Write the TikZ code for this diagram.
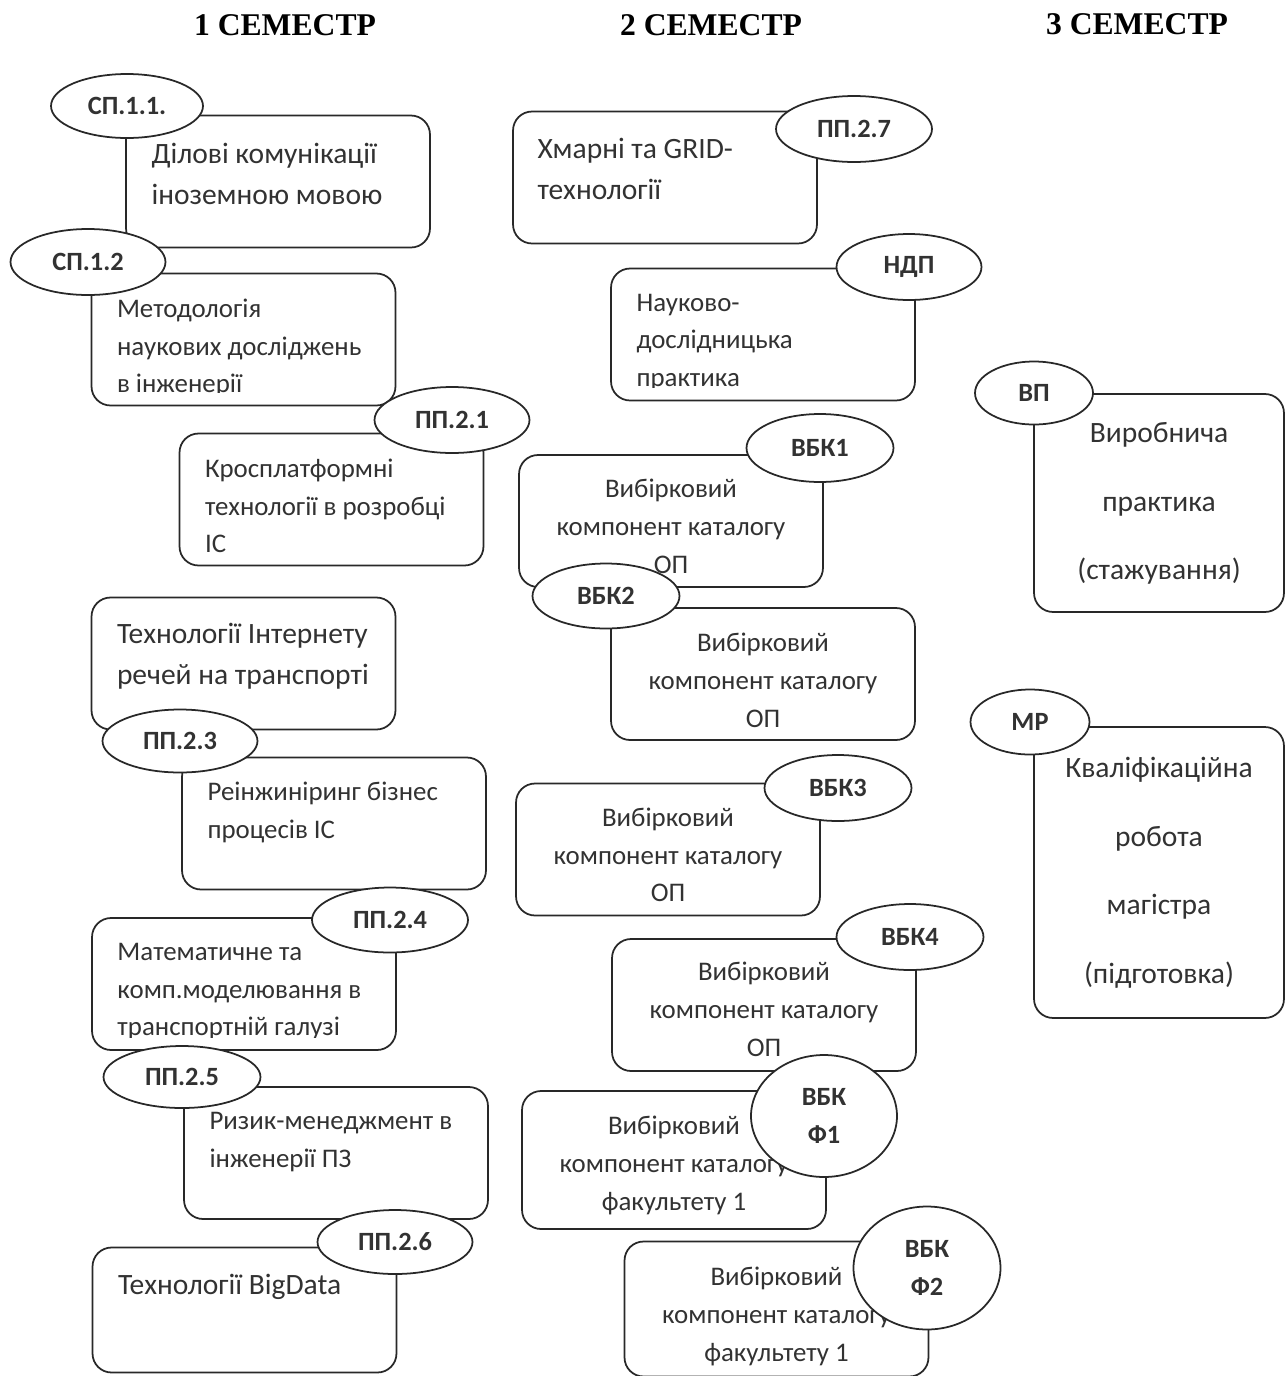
\documentclass[tikz,border=0pt]{standalone}
\usepackage{fontspec}
\setmainfont{Carlito}
\newfontfamily\headfont{Liberation Serif}
\usepackage{tikz}
\usetikzlibrary{shapes.geometric, positioning}
\definecolor{inkgray}{RGB}{50,50,50}
\definecolor{linegray}{RGB}{40,40,40}
\tikzstyle{box} = [rectangle, rounded corners=0.38cm, draw=linegray, line width=1pt,
                   minimum width=6.08cm, minimum height=2.64cm, inner sep=0pt]
\tikzstyle{tag} = [ellipse, draw=linegray, fill=white, line width=1pt, inner sep=0pt,
                   minimum width=3.1cm, minimum height=1.3cm, align=center, text=inkgray,
                   font=\fontsize{15}{22}\selectfont\bfseries]
\tikzstyle{vtag} = [tag, minimum width=2.94cm, minimum height=1.32cm]
\tikzstyle{txt} = [inner sep=0pt, align=left, text=inkgray, font=\fontsize{15.3}{21.4}\selectfont]
\tikzstyle{big} = [font=\fontsize{16.8}{23.3}\selectfont]
\tikzstyle{txtc} = [txt, align=center]
\tikzstyle{tall} = [txtc, font=\fontsize{16.8}{39}\selectfont]
\tikzstyle{head} = [inner sep=0pt, font=\headfont\bfseries\fontsize{18}{22}\selectfont]

\begin{document}
\begin{tikzpicture}[x=0.02cm, y=-0.02cm]
    \useasboundingbox (0,0) rectangle (1286,1376);

    % Semesters
    \node[head] (sem1) at (285,25) {1 СЕМЕСТР};
    \node[head] (sem2) at (711,25) {2 СЕМЕСТР};
    \node[head] (sem3) at (1137,24) {3 СЕМЕСТР};

    % 1 semester
    \node[box] (comm) at (278,181.5) {};
    \node[txt, big, below right=0.56cm and 0.52cm of comm.north west] (comm-t) {Ділові комунікації\\іноземною мовою};
    \node[box] (method) at (243.5,339.5) {};
    \begin{scope}
        \clip (method.north west) rectangle ([yshift=0.27cm]method.south east);
        \node[txt, below right=0.52cm and 0.52cm of method.north west] (method-t) {Методологія\\наукових досліджень\\в інженерії};
    \end{scope}
    \node[box] (cross) at (331.5,499.5) {};
    \node[txt, below right=0.52cm and 0.52cm of cross.north west] (cross-t) {Кросплатформні\\технології в розробці\\ІС};
    \node[box] (iot) at (243.5,663.5) {};
    \node[txt, big, below right=0.52cm and 0.52cm of iot.north west] (iot-t) {Технології Інтернету\\речей на транспорті};
    \node[box] (reeng) at (334,823.5) {};
    \node[txt, below right=0.5cm and 0.52cm of reeng.north west] (reeng-t) {Реінжиніринг бізнес\\процесів ІС};
    \node[box] (model) at (244,984) {};
    \begin{scope}
        \clip (model.north west) rectangle ([yshift=0.27cm]model.south east);
        \node[txt, below right=0.52cm and 0.52cm of model.north west] (model-t) {Математичне та\\комп.моделювання в\\транспортній галузі};
    \end{scope}
    \node[box] (risk) at (336,1153) {};
    \node[txt, below right=0.52cm and 0.52cm of risk.north west] (risk-t) {Ризик-менеджмент в\\інженерії ПЗ};
    \node[box, minimum height=2.5cm] (bigdata) at (244.5,1310) {};
    \node[txt, big, below right=0.54cm and 0.52cm of bigdata.north west] (bigdata-t) {Технології BigData};

    % 2 semester
    \node[box] (cloud) at (665,177.5) {};
    \node[txt, big, below right=0.54cm and 0.5cm of cloud.north west] (cloud-t) {Хмарні та GRID-\\технології};
    \node[box] (research) at (763,334.5) {};
    \begin{scope}
        \clip (research.north west) rectangle ([yshift=0.27cm]research.south east);
        \node[txt, below right=0.52cm and 0.52cm of research.north west] (research-t) {Науково-\\дослідницька\\практика};
    \end{scope}
    \node[box] (vbk1) at (671,521) {};
    \node[txtc, below=0.5cm of vbk1.north] (vbk1-t) {Вибірковий\\компонент каталогу\\ОП};
    \node[box] (vbk2) at (763,674) {};
    \node[txtc, below=0.52cm of vbk2.north] (vbk2-t) {Вибірковий\\компонент каталогу\\ОП};
    \node[box] (vbk3) at (668,849.5) {};
    \node[txtc, below=0.5cm of vbk3.north] (vbk3-t) {Вибірковий\\компонент каталогу\\ОП};
    \node[box] (vbk4) at (764,1005) {};
    \node[txtc, below=0.48cm of vbk4.north] (vbk4-t) {Вибірковий\\компонент каталогу\\ОП};
    \node[box, minimum height=2.76cm] (fac1) at (674,1160) {};
    \node[txtc, below=0.52cm of fac1.north] (fac1-t) {Вибірковий\\компонент каталогу\\факультету 1};
    \node[box, minimum height=2.7cm] (fac2) at (776.5,1309) {};
    \node[txtc, below=0.53cm of fac2.north] (fac2-t) {Вибірковий\\компонент каталогу\\факультету 1};

    % 3 semester
    \node[box, minimum width=5cm, minimum height=4.36cm] (intern) at (1159,503) {};
    \node[tall, below=0.58cm of intern.north] (intern-t) {Виробнича\\практика\\(стажування)};
    \node[box, minimum width=5cm, minimum height=5.82cm] (thesis) at (1159,872.5) {};
    \node[tall, below=0.62cm of thesis.north] (thesis-t) {Кваліфікаційна\\робота\\магістра\\(підготовка)};

    % Codes
    \node[tag, minimum width=3.04cm, minimum height=1.28cm] (sp11) at (127,106) {СП.1.1.};
    \node[tag, minimum height=1.32cm] (sp12) at (88,262) {СП.1.2};
    \node[tag, minimum height=1.32cm] (pp21) at (452,420) {ПП.2.1};
    \node[tag, minimum height=1.26cm] (pp23) at (180,741) {ПП.2.3};
    \node[tag, minimum width=3.12cm] (pp24) at (390,920) {ПП.2.4};
    \node[tag, minimum width=3.14cm, minimum height=1.24cm] (pp25) at (182,1077) {ПП.2.5};
    \node[tag, minimum height=1.28cm] (pp26) at (395,1242) {ПП.2.6};
    \node[tag, minimum width=3.12cm, minimum height=1.32cm] (pp27) at (854,129) {ПП.2.7};
    \node[vtag, minimum width=2.9cm] (ndp) at (909,267) {НДП};
    \node[vtag, minimum height=1.36cm] (vbk1-c) at (820,448) {ВБК1};
    \node[vtag, minimum height=1.3cm] (vbk2-c) at (606,596) {ВБК2};
    \node[vtag] (vbk3-c) at (838,788) {ВБК3};
    \node[vtag] (vbk4-c) at (910,937) {ВБК4};
    \node[vtag, minimum width=2.92cm, minimum height=2.44cm] (fac1-c) at (824,1116) {ВБК\\Ф1};
    \node[vtag, minimum height=2.46cm] (fac2-c) at (927,1268) {ВБК\\Ф2};
    \node[tag, minimum width=2.36cm, minimum height=1.26cm] (vp) at (1034,393) {ВП};
    \node[tag, minimum width=2.38cm] (mr) at (1030,722) {МР};
\end{tikzpicture}
\end{document}
